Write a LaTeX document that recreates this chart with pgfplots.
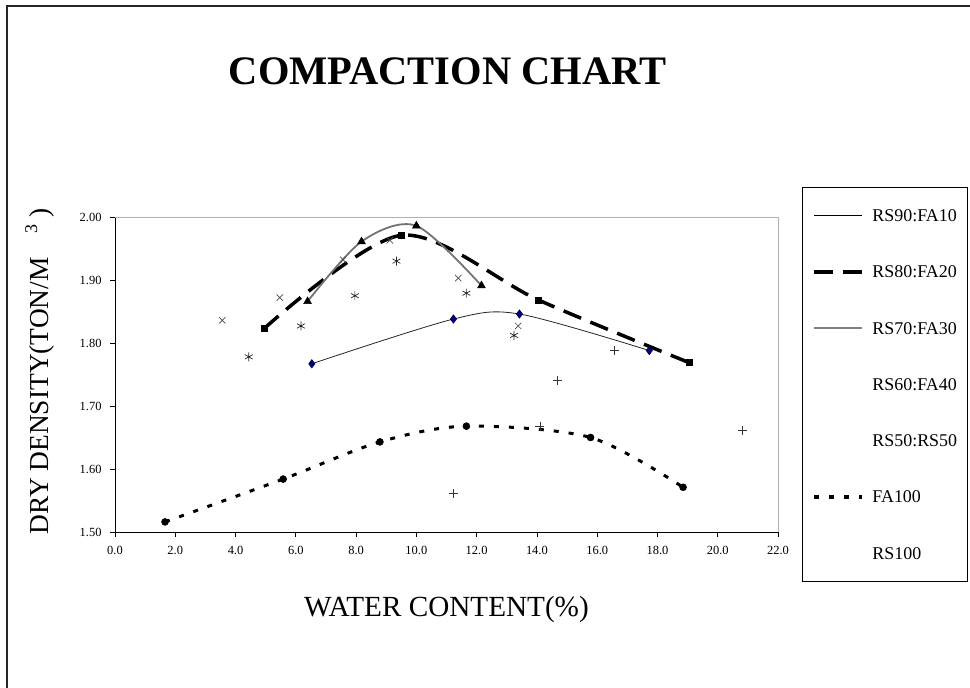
\documentclass[border=0pt]{standalone}
\usepackage{fontspec}
\setmainfont{Liberation Serif}
\usepackage{pgfplots}
\pgfplotsset{compat=1.18}
\begin{document}
\begin{tikzpicture}[x=1bp,y=1bp]
\useasboundingbox (0,0) rectangle (970,688);
\draw[line width=1.3bp, black!85] (7,-10) -- (7,682) -- (985,682);
\node[font=\fontsize{40.6}{40.6}\bfseries\selectfont, inner sep=0pt] at (447.5,616.5) {COMPACTION CHART};
\begin{axis}[
  at={(115bp,156bp)}, anchor=south west,
  scale only axis, width=663bp, height=315bp,
  xmin=0, xmax=22, ymin=1.5, ymax=2.0,
  xtick={0,2,4,6,8,10,12,14,16,18,20,22},
  ytick={1.5,1.6,1.7,1.8,1.9,2.0},
  axis x line*=bottom, axis y line*=left,
  axis line style={-, line width=0.9bp, black},
  tick align=outside, major tick length=5bp,
  tick style={black, line width=0.8bp},
  /pgf/number format/assume math mode=true,
  ticklabel style={font=\fontsize{12.5}{12.5}\selectfont},
  xticklabel style={yshift=-6bp, /pgf/number format/.cd, fixed, fixed zerofill, precision=1},
  yticklabel style={xshift=-5bp, /pgf/number format/.cd, fixed, fixed zerofill, precision=2},
  clip=false,
  xlabel={WATER CONTENT(\%)},
  xlabel style={at={(axis description cs:0.5,-0.2698)}, anchor=base, font=\fontsize{29.3}{29.3}\selectfont},
  ylabel={DRY DENSITY(TON/M\hspace{24bp}\raisebox{11bp}{\fontsize{18}{18}\selectfont 3}\hspace{7bp})},
  ylabel style={at={(axis description cs:-0.101,0.51)}, anchor=base, rotate=0, font=\fontsize{27.5}{27.5}\selectfont},
  legend cell align=left,
  legend style={at={(1.0362,1.0952)}, anchor=north west, draw=black, line width=0.8bp,
    inner xsep=10bp, inner ysep=22bp, row sep=44.3bp, column sep=8bp,
    font=\fontsize{18}{18}\selectfont,
    nodes={inner sep=0pt, text height=12bp, text depth=0pt}},
]
\draw[black!30, line width=0.8bp] (rel axis cs:0,1) -- (rel axis cs:1,1) -- (rel axis cs:1,0);

% RS90:FA10
\addplot[smooth, black!85, line width=0.8bp, mark=diamond*, mark size=4bp,
  mark options={solid, fill=blue!55!black, draw=blue!35!black},
  legend image code/.code={\draw[black, line width=0.8bp] (0bp,0bp) -- (48bp,0bp);}]
  coordinates {(6.53,1.767) (11.23,1.838) (13.42,1.846) (17.73,1.788)};
\addlegendentry{RS90:FA10}

% RS80:FA20
\addplot[smooth, black, line width=3.5bp, dash pattern=on 19bp off 10bp, mark=square*, mark size=3bp,
  mark options={solid, line width=0.5bp, fill=black},
  legend image code/.code={\draw[black, line width=4bp, dash pattern=on 19bp off 10bp] (0bp,0bp) -- (48bp,0bp);}]
  coordinates {(4.95,1.823) (9.51,1.971) (14.06,1.868) (19.04,1.769)};
\addlegendentry{RS80:FA20}

% RS70:FA30
\addplot[smooth, black!55, line width=1.8bp, mark=triangle*, mark size=4.5bp,
  mark options={solid, line width=0.5bp, fill=black, draw=black},
  legend image code/.code={\draw[black!50, line width=1.6bp] (0bp,0bp) -- (48bp,0bp);}]
  coordinates {(6.39,1.866) (8.18,1.961) (10.00,1.986) (12.16,1.891)};
\addlegendentry{RS70:FA30}

% RS60:FA40
\addplot[only marks, mark=x, mark size=4.5bp, mark options={black!70, line width=0.7bp},
  legend image code/.code={\path[draw=none, fill=none] (0bp,0bp) -- (48bp,0bp);}]
  coordinates {(3.56,1.836) (5.47,1.872) (7.57,1.932) (9.12,1.963) (11.39,1.903) (13.38,1.827)};
\addlegendentry{RS60:FA40}

% RS50:RS50
\addplot[only marks, mark=asterisk, mark size=4.5bp, mark options={black!85, line width=0.7bp},
  legend image code/.code={\path[draw=none, fill=none] (0bp,0bp) -- (48bp,0bp);}]
  coordinates {(4.44,1.778) (6.17,1.827) (7.96,1.875) (9.34,1.930) (11.66,1.879) (13.24,1.812)};
\addlegendentry{RS50:RS50}

% FA100
\addplot[smooth, black, line width=3bp, dash pattern=on 5bp off 10bp, mark=*, mark size=3.5bp,
  mark options={solid, line width=0.5bp, fill=black},
  legend image code/.code={\draw[black, line width=4bp, dash pattern=on 5bp off 10bp] (0bp,0bp) -- (48bp,0bp);}]
  coordinates {(1.66,1.516) (5.58,1.584) (8.79,1.643) (11.66,1.668) (15.78,1.650) (18.85,1.571)};
\addlegendentry{FA100}

% RS100
\addplot[only marks, mark=+, mark size=4.5bp, mark options={black!80, line width=0.7bp},
  legend image code/.code={\path[draw=none, fill=none] (0bp,0bp) -- (48bp,0bp);}]
  coordinates {(11.22,1.561) (14.10,1.668) (14.67,1.740) (16.56,1.788) (20.82,1.661)};
\addlegendentry{RS100}
\end{axis}
\end{tikzpicture}
\end{document}
